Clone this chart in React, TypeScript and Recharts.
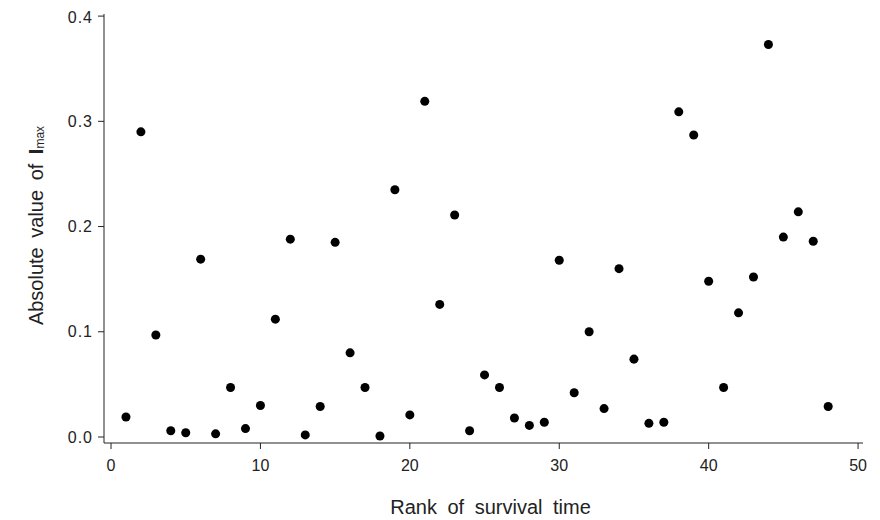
import { Label, Scatter, ScatterChart, XAxis, YAxis } from "recharts";

const ranks = [
  1, 2, 3, 4, 5, 6, 7, 8, 9, 10, 11, 12, 13, 14, 15, 16, 17, 18, 19, 20, 21, 22, 23, 24,
  25, 26, 27, 28, 29, 30, 31, 32, 33, 34, 35, 36, 37, 38, 39, 40, 41, 42, 43, 44, 45, 46, 47, 48
];
const absImax = [
  0.019, 0.290, 0.097, 0.006, 0.004, 0.169, 0.003, 0.047, 0.008, 0.030, 0.112, 0.188,
  0.002, 0.029, 0.185, 0.080, 0.047, 0.001, 0.235, 0.021, 0.319, 0.126, 0.211, 0.006,
  0.059, 0.047, 0.018, 0.011, 0.014, 0.168, 0.042, 0.100, 0.027, 0.160, 0.074, 0.013,
  0.014, 0.309, 0.287, 0.148, 0.047, 0.118, 0.152, 0.373, 0.190, 0.214, 0.186, 0.029
];
const xTicks = [0, 10, 20, 30, 40, 50];
const yTicks = [0, 0.1, 0.2, 0.3, 0.4];

const data = ranks.map((r, i) => ({ rank: r, value: absImax[i] }));

const font = "'Liberation Sans', Arial, sans-serif";
const ink = "#222";
const textInk = "#222";

// y title with bold I and subscript "max"
function YTitle(props: any) {
  const { viewBox } = props;
  const cx = 28;
  const cy = viewBox.y + viewBox.height / 2 - 3;
  return (
    <text
      x={cx}
      y={cy}
      transform={`rotate(-90, ${cx}, ${cy})`}
      textAnchor="middle"
      dominantBaseline="central"
      fontFamily={font}
      fontSize={20}
      wordSpacing={4}
      fill={textInk}
    >
      Absolute value of{" "}
      <tspan fontWeight="bold">I</tspan>
      <tspan fontSize={12} dy={4}>max</tspan>
    </text>
  );
}

export default function App() {
  return (
    <ScatterChart
      width={872}
      height={512}
      margin={{ top: 6, right: 17, bottom: 0, left: 0 }}
      style={{ background: "#fff" }}
    >
      <XAxis
        type="number"
        dataKey="rank"
        domain={[-0.47, 50.33]}
        ticks={xTicks}
        allowDataOverflow
        stroke={ink}
        tickSize={6}
        tick={{ fill: textInk, fontFamily: font, fontSize: 16 }}
        tickMargin={11}
        height={77}
      >
        <Label
          value="Rank of survival time"
          position="insideBottom"
          offset={6}
          dx={7}
          style={{ fill: textInk, fontFamily: font, fontSize: 20, wordSpacing: 5 }}
        />
      </XAxis>
      <YAxis
        type="number"
        dataKey="value"
        domain={[-0.0057, 0.402]}
        ticks={yTicks}
        allowDataOverflow
        stroke={ink}
        tickSize={6}
        tickMargin={5}
        tickFormatter={(v: number) => v.toFixed(1)}
        tick={{ fill: textInk, fontFamily: font, fontSize: 16, letterSpacing: 1 }}
        width={96}
      >
        <Label content={<YTitle />} />
      </YAxis>
      <Scatter data={data} fill="#000" isAnimationActive={false} shape="circle" r={3.5} />
    </ScatterChart>
  );
}
